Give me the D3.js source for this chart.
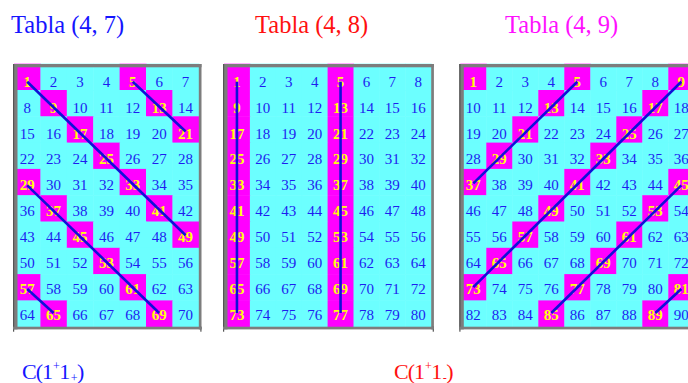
<!DOCTYPE html>
<html><head><meta charset="utf-8">
<script src="https://cdn.jsdelivr.net/npm/d3@7"></script>
<style>html,body{margin:0;padding:0;background:#fff;}svg{display:block;}text{font-family:"Liberation Serif";}</style>
</head><body>
<script>
// ---- data ----
const titles = ["Tabla (4, 7)", "Tabla (4, 8)", "Tabla (4, 9)"];
const columnCounts = [7, 8, 9];
const rowCounts = [10, 10, 10];
const highlighted47 = [1,5,9,13,17,21,25,29,33,37,41,45,49,53,57,61,65,69];
const highlighted48 = [1,5,9,13,17,21,25,29,33,37,41,45,49,53,57,61,65,69,73,77];
const highlighted49 = [1,5,9,13,17,21,25,29,33,37,41,45,49,53,57,61,65,69,73,77,81,85,89];
const lines47 = [[1,49],[5,21],[29,69],[57,65]];
const lines48 = [[1,73],[5,77]];
const lines49 = [[5,37],[9,73],[45,85],[81,89]];
const footLabels = [{base:"C(1", sup:"+", mid:"1", sub:"+", end:")"},
                    {base:"C(1", sup:"+", mid:"1", sub:"-", end:")"}];

// ---- layout / style ----
const W = 688, H = 383;
const layout = [
  {gx:14, cw:26.4, titleX:11, titleColor:"#1515ff"},
  {gx:224, cw:25.9, titleX:255, titleColor:"#ff1010"},
  {gx:460.3, cw:26.0, titleX:505, titleColor:"#ff10ff"}
];
const gy = 63.7, ch = 26.3;
const footLayout = [{x:22, color:"#1515ff"}, {x:394, color:"#ff1010"}];
const CYAN = "#6cffff", MAG = "#ff00ff", GREY = "#7d7d7d";
const serif = "Liberation Serif";

const svg = d3.select("body").append("svg").attr("width", W).attr("height", H)
  .style("background", "#fff");

const highlights = [highlighted47, highlighted48, highlighted49];
const lineSets = [lines47, lines48, lines49];

titles.forEach((t, i) => {
  const L = layout[i];
  const cols = columnCounts[i], rows = rowCounts[i];
  const x = d3.scaleBand().domain(d3.range(cols)).range([L.gx, L.gx + cols * L.cw]);
  const y = d3.scaleBand().domain(d3.range(rows)).range([gy, gy + rows * ch]);
  const yText = d3.scaleLinear().domain([0, rows - 1]).range([81.7, 315]);
  const hl = new Set(highlights[i]);
  const cells = d3.range(1, cols * rows + 1).map(n => ({
    n, c: (n - 1) % cols, r: Math.floor((n - 1) / cols), on: hl.has(n)
  }));
  const g = svg.append("g");

  g.selectAll("rect.cell").data(cells).join("rect")
    .attr("class", "cell")
    .attr("x", d => x(d.c)).attr("y", d => y(d.r))
    .attr("width", x.bandwidth() + 0.5).attr("height", y.bandwidth() + 0.5)
    .attr("fill", d => d.on ? MAG : CYAN);

  g.selectAll("text.num").data(cells).join("text")
    .attr("class", "num")
    .attr("x", d => x(d.c) + x.bandwidth() / 2)
    .attr("y", d => yText(d.r) + 5)
    .attr("text-anchor", "middle")
    .style("font-family", serif)
    .style("font-size", "15px")
    .style("font-weight", d => d.on ? "bold" : "normal")
    .attr("fill", d => d.on ? "#ffff10" : "#1e1ef0")
    .text(d => d.n);

  const pos = n => {
    const c = (n - 1) % cols, r = Math.floor((n - 1) / cols);
    return [x(c) + x.bandwidth() / 2, yText(r)];
  };
  g.selectAll("line.conn").data(lineSets[i]).join("line")
    .attr("class", "conn")
    .attr("x1", d => pos(d[0])[0]).attr("y1", d => pos(d[0])[1])
    .attr("x2", d => pos(d[1])[0]).attr("y2", d => pos(d[1])[1] - 2)
    .attr("stroke", "#1010d8").attr("stroke-width", 2.6).attr("stroke-linecap", "butt");

  const x0 = L.gx - 1, x1 = L.gx + cols * L.cw, y0 = 64, y1 = gy + rows * ch;
  g.append("rect").attr("x", x0).attr("y", y0).attr("width", x1 - x0 + 2.7).attr("height", 3.3).attr("fill", GREY);
  g.append("rect").attr("x", x0).attr("y", y0).attr("width", 4.5).attr("height", y1 - y0 + 2.7).attr("fill", GREY);
  g.append("rect").attr("x", x0).attr("y", y0).attr("width", 1.2).attr("height", y1 - y0 + 5).attr("fill", "#555");
  g.append("rect").attr("x", x1).attr("y", y0).attr("width", 2.7).attr("height", y1 - y0 + 2.7).attr("fill", GREY);
  g.append("rect").attr("x", x1 + 1.5).attr("y", y1).attr("width", 1.2).attr("height", 5).attr("fill", "#555");
  g.append("rect").attr("x", x0).attr("y", y1).attr("width", x1 - x0 + 2.7).attr("height", 2.7).attr("fill", GREY);

  svg.append("text")
    .attr("x", L.titleX).attr("y", 33.3)
    .style("font-family", serif).style("font-size", "24.5px")
    .attr("fill", L.titleColor)
    .text(t);
});

footLabels.forEach((f, i) => {
  const F = footLayout[i];
  const t = svg.append("text").attr("x", F.x).attr("y", 379)
    .style("font-family", serif).style("font-size", "22px")
    .attr("fill", F.color);
  t.append("tspan").style("letter-spacing", "-1px").text(f.base);
  t.append("tspan").attr("dy", -9).attr("dx", 1).style("font-size", "12px").text(f.sup);
  t.append("tspan").attr("dy", 9).attr("dx", -0.5).text(f.mid);
  t.append("tspan").attr("dy", 3).attr("dx", 0.5).style("font-size", "12px").text(f.sub);
  t.append("tspan").attr("dy", -3).attr("dx", -0.5).text(f.end);
});
</script>
</body></html>
